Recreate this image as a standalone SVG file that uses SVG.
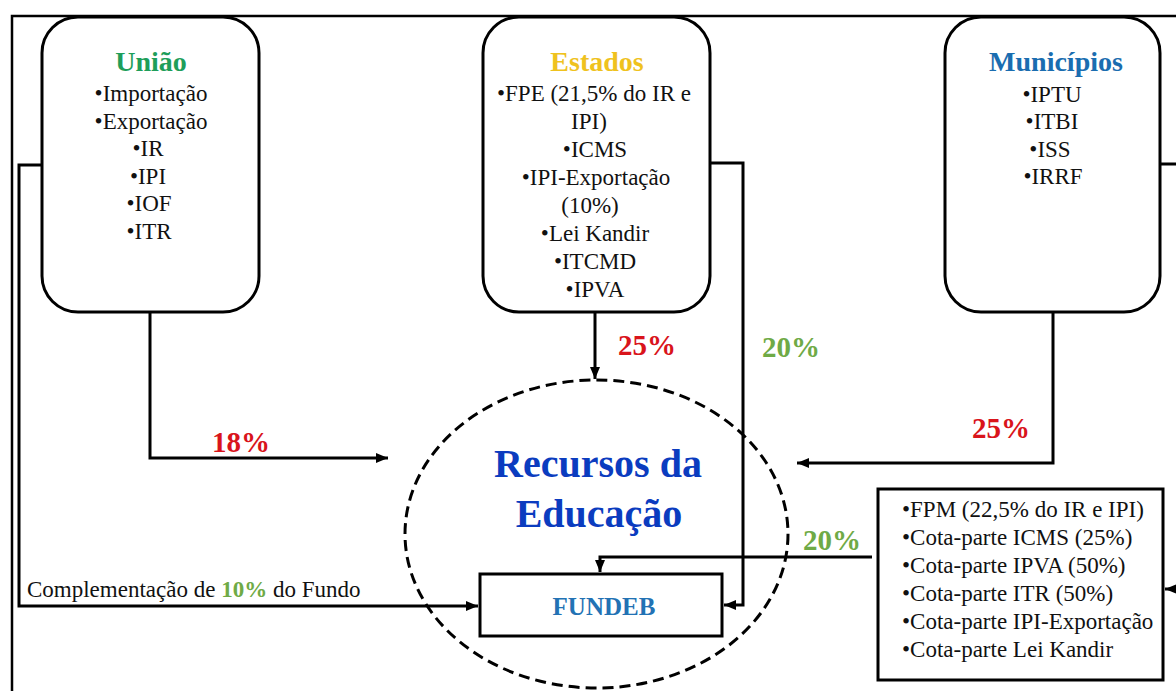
<svg xmlns="http://www.w3.org/2000/svg" width="1176" height="691" viewBox="0 0 1176 691">
<style>
.t{font-family:"Liberation Serif","DejaVu Serif",serif;}
.item{font-size:23px;fill:#111;}
.title{font-size:28px;font-weight:bold;}
.pct{font-size:29px;font-weight:bold;}
.red{fill:#D9141B;}
.grn{fill:#6FAA46;}
.box{fill:#fff;stroke:#000;stroke-width:3;}
.con{fill:none;stroke:#000;stroke-width:3;}
</style>
<defs>
<marker id="ah" markerUnits="userSpaceOnUse" markerWidth="12" markerHeight="10" refX="12" refY="5" orient="auto">
<path d="M0,0 L12,5 L0,10 z" fill="#000"/>
</marker>
</defs>
<rect width="1176" height="691" fill="#fff"/>
<g id="frame">
<path d="M12,691 L12,16 L1176,16" fill="none" stroke="#000" stroke-width="2.5"/>
</g>
<g id="connectors">
<path class="con" d="M42,165 L19,165 L19,606 L478,606" marker-end="url(#ah)"/>
<path class="con" d="M150,312 L150,458 L388,458" marker-end="url(#ah)"/>
<path class="con" d="M595,312 L595,379" marker-end="url(#ah)"/>
<path class="con" d="M710,163 L743,163 L743,605 L724,605" marker-end="url(#ah)"/>
<path class="con" d="M1160,164 L1190,164 L1190,589 L1165,589" marker-end="url(#ah)"/>
<path class="con" d="M1053,312 L1053,463 L797,463" marker-end="url(#ah)"/>
<path class="con" d="M872,557 L600,557 L600,572" marker-end="url(#ah)"/>
</g>
<g id="uniao">
<rect class="box" x="42" y="17" width="217" height="295" rx="36" ry="36"/>
<text class="t title" x="151" y="71" text-anchor="middle" fill="#1E9E5A">União</text>
<text class="t item" text-anchor="middle"><tspan x="151" y="101">•Importação</tspan><tspan x="151" y="128.5">•Exportação</tspan><tspan x="148" y="156">•IR</tspan><tspan x="148" y="183.5">•IPI</tspan><tspan x="149" y="211">•IOF</tspan><tspan x="149" y="238.5">•ITR</tspan></text>
</g>
<g id="estados">
<rect class="box" x="483" y="17" width="227" height="295" rx="36" ry="36"/>
<text class="t title" x="597" y="71" text-anchor="middle" fill="#EFC21E">Estados</text>
<text class="t item" text-anchor="middle"><tspan x="594" y="101">•FPE (21,5% do IR e</tspan><tspan x="589" y="129">IPI)</tspan><tspan x="595" y="157">•ICMS</tspan><tspan x="596" y="185">•IPI-Exportação</tspan><tspan x="590" y="213">(10%)</tspan><tspan x="595" y="241">•Lei Kandir</tspan><tspan x="595" y="269">•ITCMD</tspan><tspan x="595" y="297">•IPVA</tspan></text>
</g>
<g id="municipios">
<rect class="box" x="945" y="17" width="215" height="295" rx="36" ry="36"/>
<text class="t title" x="1056" y="71" text-anchor="middle" fill="#1A6DB0">Municípios</text>
<text class="t item" text-anchor="middle"><tspan x="1052" y="101.5">•IPTU</tspan><tspan x="1052" y="129">•ITBI</tspan><tspan x="1050" y="156.5">•ISS</tspan><tspan x="1053" y="184">•IRRF</tspan></text>
</g>
<g id="recursos">
<ellipse cx="596.5" cy="534" rx="191.5" ry="154" fill="none" stroke="#000" stroke-width="3" stroke-dasharray="11 6"/>
<text class="t" x="598" y="477" text-anchor="middle" font-size="40" font-weight="bold" fill="#0B3CBF">Recursos da</text>
<text class="t" x="599" y="527" text-anchor="middle" font-size="40" font-weight="bold" fill="#0B3CBF">Educação</text>
</g>
<g id="fundeb">
<rect class="box" x="480" y="574" width="242" height="62"/>
<text class="t" x="604" y="615" text-anchor="middle" font-size="25" font-weight="bold" fill="#2272B4">FUNDEB</text>
</g>
<g id="municipal-transfers">
<rect class="box" x="878" y="489" width="285" height="191"/>
<text class="t item"><tspan x="902" y="517">•FPM (22,5% do IR e IPI)</tspan><tspan x="902" y="545">•Cota-parte ICMS (25%)</tspan><tspan x="902" y="573">•Cota-parte IPVA (50%)</tspan><tspan x="902" y="601">•Cota-parte ITR (50%)</tspan><tspan x="902" y="629">•Cota-parte IPI-Exportação</tspan><tspan x="902" y="657">•Cota-parte Lei Kandir</tspan></text>
</g>
<g id="labels">
<text class="t pct red" x="212" y="452">18%</text>
<text class="t pct red" x="618" y="355">25%</text>
<text class="t pct grn" x="762" y="357">20%</text>
<text class="t pct red" x="972" y="438">25%</text>
<text class="t pct grn" x="803" y="550">20%</text>
<text class="t item" x="27" y="597">Complementação de <tspan class="grn" font-weight="bold">10%</tspan> do Fundo</text>
</g>
</svg>
